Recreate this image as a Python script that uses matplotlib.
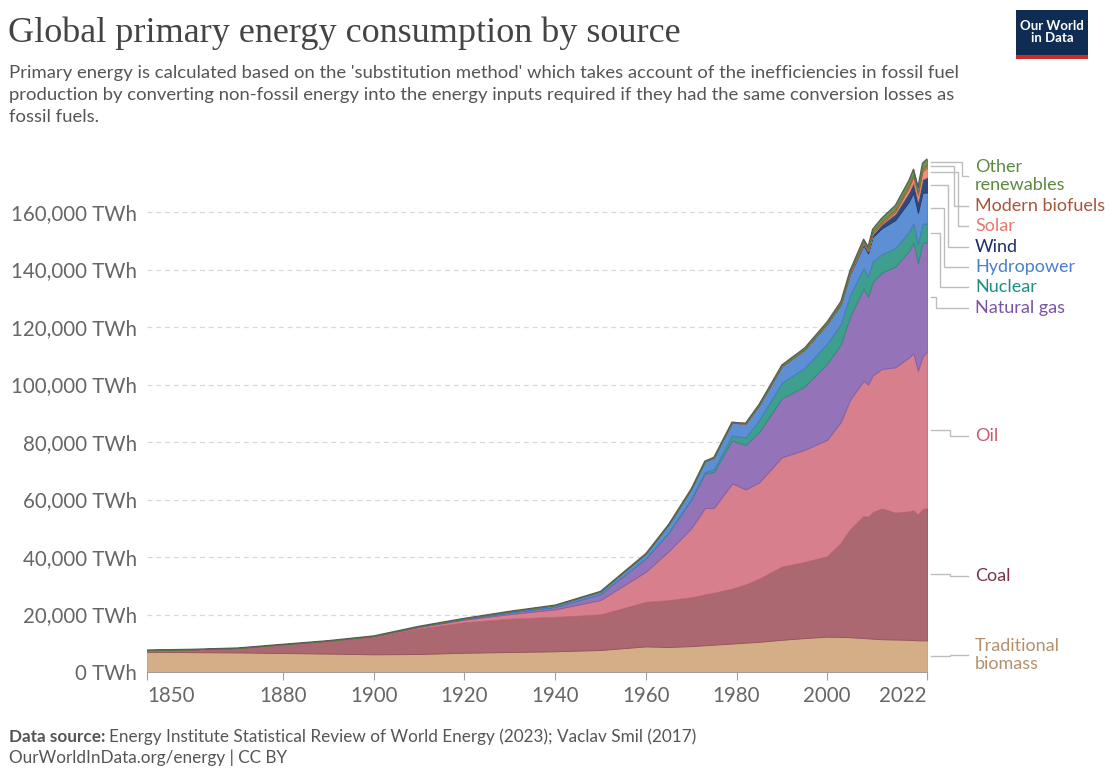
import numpy as np
import matplotlib.pyplot as plt
from matplotlib.patches import Rectangle

# values in TWh (decadal before 1965, selected years after)
years = [1850, 1860, 1870, 1880, 1890, 1900, 1910, 1920, 1930, 1940, 1950, 1960,
         1965, 1970, 1973, 1975, 1979, 1980, 1982, 1985, 1990, 1995, 2000, 2003,
         2005, 2008, 2009, 2010, 2012, 2015, 2018, 2019, 2020, 2021, 2022]

trad_biomass = [7000, 6900, 6800, 6600, 6400, 6150, 6250, 6700, 6950, 7200, 7650, 8900,
                8700, 9000, 9300, 9500, 9900, 10000, 10200, 10500, 11200, 11800, 12300, 12200,
                12100, 11800, 11700, 11600, 11400, 11300, 11200, 11100, 11000, 11000, 11000]
coal = [650, 1000, 1550, 3000, 4400, 6100, 8900, 10600, 11600, 12000, 12400, 15500,
        16300, 17000, 17700, 18100, 19100, 19500, 20300, 22000, 25500, 26500, 28000, 32800,
        37500, 42500, 42300, 44000, 45500, 44200, 44700, 45200, 43800, 45700, 46000]
oil = [0, 0, 10, 50, 100, 200, 500, 900, 1600, 2600, 5000, 10500,
       17000, 24000, 30000, 29500, 36500, 35500, 33000, 33500, 38000, 39000, 40500, 42000,
       45000, 47000, 46000, 47500, 48500, 50500, 53500, 54500, 50000, 53000, 54500]
gas = [0, 0, 0, 0, 10, 60, 150, 230, 580, 870, 2100, 4700,
       6500, 10000, 12000, 12500, 15000, 15000, 15500, 17500, 20500, 22000, 26500, 27000,
       29000, 32000, 30500, 32500, 33500, 35000, 37000, 38500, 37500, 39500, 38000]
nuclear = [0, 0, 0, 0, 0, 0, 0, 0, 0, 0, 0, 0,
           70, 230, 550, 1000, 1800, 2000, 2600, 4200, 5500, 6500, 7000, 7100,
           7400, 7200, 7100, 7200, 6400, 6500, 6700, 6800, 6600, 6800, 6500]
hydro = [0, 0, 0, 0, 0, 50, 120, 250, 400, 600, 900, 1600,
         2700, 3400, 3700, 4000, 4500, 4600, 4800, 5200, 5600, 6300, 6800, 6800,
         7300, 8000, 8000, 8500, 9000, 9700, 10500, 10600, 10800, 10700, 10800]
wind = [0, 0, 0, 0, 0, 0, 0, 0, 0, 0, 0, 0,
        0, 0, 0, 0, 0, 0, 0, 0, 10, 20, 80, 170,
        270, 570, 700, 900, 1400, 2200, 3300, 3600, 4000, 4700, 5300]
solar = [0, 0, 0, 0, 0, 0, 0, 0, 0, 0, 0, 0,
         0, 0, 0, 0, 0, 0, 0, 0, 0, 0, 0, 0,
         10, 30, 50, 85, 250, 650, 1500, 1800, 2200, 2700, 3300]
biofuels = [0, 0, 0, 0, 0, 0, 0, 0, 0, 0, 0, 0,
            0, 0, 0, 0, 0, 0, 0, 0, 100, 110, 120, 190,
            280, 600, 650, 720, 750, 900, 1000, 1050, 980, 1050, 1150]
other_renew = [0, 0, 0, 0, 0, 0, 0, 0, 0, 0, 0, 0,
               40, 60, 80, 100, 130, 150, 180, 270, 400, 470, 550, 620,
               700, 850, 900, 1000, 1150, 1350, 1600, 1700, 1750, 1850, 1900]

sources = ["Traditional biomass", "Coal", "Oil", "Natural gas", "Nuclear",
           "Hydropower", "Wind", "Solar", "Modern biofuels", "Other renewables"]
series = [trad_biomass, coal, oil, gas, nuclear, hydro, wind, solar, biofuels, other_renew]

fills = ["#d4ae87", "#ab6870", "#d77f8c", "#9473b8", "#3e9f8e",
         "#5d8fd5", "#2e4a7e", "#f0917f", "#c8744f", "#6a9a50"]
edges = ["#c49c74", "#954f58", "#c46676", "#7f5ca6", "#2f8a7a",
         "#4878c0", "#1f3566", "#e07a6a", "#b05e3a", "#557f3e"]
text_cols = ["#b3916c", "#7c3343", "#c85a70", "#7a53a6", "#1d8f80",
             "#4a7fd0", "#1d2d66", "#e8776e", "#a9553b", "#5b8a3f"]

fig = plt.figure(figsize=(11.05, 7.68), dpi=100)
ax = fig.add_axes([147 / 1105, 96 / 768, 780 / 1105, (672 - 154.5) / 768])

x = np.array(years)
base = np.zeros(len(years))
mids = []
for vals, fc, ec in zip(series, fills, edges):
    top = base + np.array(vals)
    ax.fill_between(x, base, top, facecolor=fc, edgecolor=ec, linewidth=0.6, zorder=2)
    mids.append((base[-1] + top[-1]) / 2)
    base = top
ax.plot(x, base, color="#5a5a5a", linewidth=0.9, zorder=3)

ax.set_xlim(1850, 2022)
ax.set_ylim(0, 180000)
yt = list(range(0, 160001, 20000))
ax.set_yticks(yt)
ax.set_yticklabels([f"{v:,} TWh" for v in yt])
ax.set_xticks([1850, 1880, 1900, 1920, 1940, 1960, 1980, 2000, 2022])
ax.grid(axis="y", color="#d8d8d8", linestyle=(0, (4, 3)), linewidth=0.9)
ax.set_axisbelow(True)
for s in ["top", "right", "left"]:
    ax.spines[s].set_visible(False)
ax.spines["bottom"].set_color("#a0a0a0")
ax.tick_params(axis="y", length=0, pad=7, labelsize=14.8, labelcolor="#666666")
ax.tick_params(axis="x", length=6, color="#a0a0a0", pad=4, labelsize=14.8, labelcolor="#666666")
for lab in ax.get_xticklabels() + ax.get_yticklabels():
    lab.set_family("Lato")
xlabs = ax.get_xticklabels()
xlabs[0].set_ha("left")
xlabs[-1].set_ha("right")

# overlay in pixel coordinates for texts and connectors
ov = fig.add_axes([0, 0, 1, 1], zorder=5)
ov.set_xlim(0, 1105)
ov.set_ylim(768, 0)
ov.axis("off")

def to_px(xd, yd):
    d = ax.transData.transform((xd, yd))
    return ov.transData.inverted().transform(d)

ov.text(8, 33, "Global primary energy consumption by source", fontsize=26,
        family="Liberation Serif", color="#444444", va="center")
sub = ["Primary energy is calculated based on the 'substitution method' which takes account of the inefficiencies in fossil fuel",
       "production by converting non-fossil energy into the energy inputs required if they had the same conversion losses as",
       "fossil fuels."]
for i, line in enumerate(sub):
    ov.text(9, 73 + i * 22, line, fontsize=13.3, family="Lato", color="#555555", va="center")

ov.add_patch(Rectangle((1016, 10), 72, 45, facecolor="#0f2c52", edgecolor="none"))
ov.add_patch(Rectangle((1016, 55), 72, 4, facecolor="#ce2a2a", edgecolor="none"))
ov.text(1052, 32, "Our World\nin Data", color="white", fontsize=9.5, family="Lato",
        weight="bold", ha="center", va="center", linespacing=1.0)

src = ov.text(9, 737, "Data source:", fontsize=12.3, family="Lato", weight="bold",
              color="#555555", va="center")
renderer = fig.canvas.get_renderer()
bb = src.get_window_extent(renderer)
src_end = ov.transData.inverted().transform((bb.x1, bb.y0))[0]
ov.text(src_end + 4, 737, "Energy Institute Statistical Review of World Energy (2023); Vaclav Smil (2017)",
        fontsize=12.3, family="Lato", color="#555555", va="center")
ov.text(9, 758, "OurWorldInData.org/energy | CC BY", fontsize=12.3, family="Lato",
        color="#555555", va="center")

# right side labels with elbow connectors
label_text = ["Traditional\nbiomass", "Coal", "Oil", "Natural gas", "Nuclear",
              "Hydropower", "Wind", "Solar", "Modern biofuels", "Other\nrenewables"]
label_y = [655, 576, 436, 308, 287, 267, 247, 226, 206, 176]
elbow_x = [950, 950, 950, 936, 940, 944, 948, 958, 954, 962]
for i in range(len(series)):
    sx, sy = to_px(2022, mids[i])
    sx += 4
    ly = label_y[i]
    ex = elbow_x[i]
    ov.plot([sx, ex, ex, 968], [sy, sy, ly, ly], color="#bdbdbd", linewidth=1.0,
            solid_joinstyle="miter")
    ov.text(975, ly, label_text[i], fontsize=13, family="Lato", color=text_cols[i],
            va="center", ha="left", linespacing=1.1)

fig.savefig("out.png", dpi=100, facecolor="white")
